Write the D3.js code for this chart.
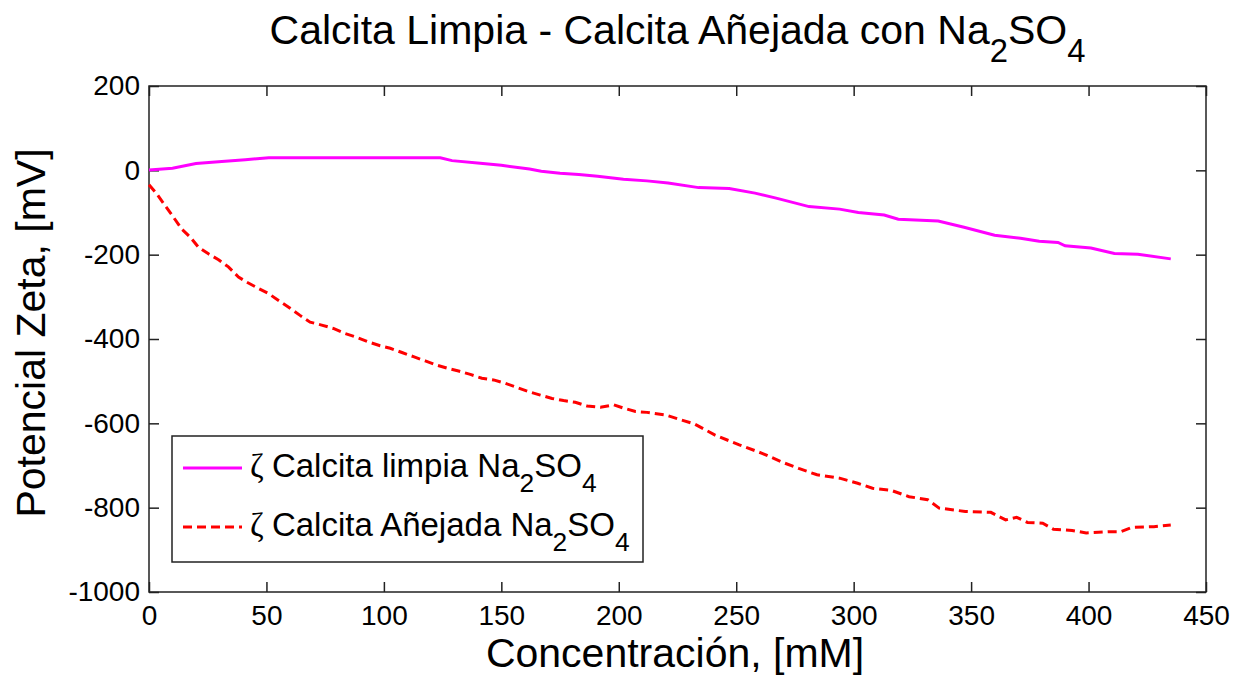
<!DOCTYPE html>
<html>
<head>
<meta charset="utf-8">
<script src="https://cdn.jsdelivr.net/npm/d3@7"></script>
<style>
  body { margin: 0; background: #fff; }
  text { font-family: "Liberation Sans", Arial, sans-serif; fill: #000; }
</style>
</head>
<body>
<div id="chart"></div>
<script>
// data
const concLimpia = [0, 10, 20, 31, 41, 51, 124, 129, 141, 150, 162, 167, 175, 183, 191, 202, 212, 221, 234, 247, 258, 267, 281, 294, 302, 313, 319, 336, 347, 360, 371, 379, 387, 390, 401, 411, 421, 435]
const zetaLimpia = [1, 5, 16, 21, 25, 30, 30, 23, 17, 12, 3, -2, -7, -10, -14, -21, -25, -30, -41, -43, -54, -66, -86, -92, -100, -106, -116, -120, -135, -154, -161, -168, -171, -179, -184, -197, -199, -210]

const concAnejada = [0, 3.3, 6.8, 10.4, 13.9, 17.5, 21, 25.3, 29.6, 33.8, 38.1, 41.6, 46.6, 50.8, 55, 59.3, 64.3, 68.6, 73.5, 78.5, 83.5, 88.4, 93.4, 98.4, 102.7, 107.7, 112.6, 117.6, 122.5, 126.8, 131.8, 136.8, 141.7, 146.7, 151.7, 156.6, 161.6, 166.6, 171.6, 176.5, 181.5, 186.5, 192.2, 197.9, 202.1, 207.1, 212, 219.8, 232.4, 241, 251.3, 261, 270, 276.6, 284.4, 294, 301.7, 308, 316, 323.6, 331.5, 336.4, 347.5, 358.4, 364.7, 369.4, 374, 380.5, 385, 393, 399, 408.8, 413.6, 418.4, 427.8, 435]
const zetaAnejada = [-34, -56, -83, -111, -139, -158, -182, -198, -212, -229, -253, -265, -280, -292, -308, -324, -344, -360, -367, -375, -387, -396, -407, -416, -422, -432, -442, -452, -462, -469, -476, -484, -493, -497, -505, -515, -525, -533, -541, -546, -550, -559, -562, -556, -564, -572, -574, -580, -602, -628, -651, -671, -693, -707, -722, -730, -742, -754, -759, -774, -781, -801, -809, -811, -829, -823, -835, -837, -851, -854, -860, -857, -857, -847, -845, -841]

const xTicks = [0, 50, 100, 150, 200, 250, 300, 350, 400, 450]
const yTicks = [200, 0, -200, -400, -600, -800, -1000]

// size and plot box
const WIDTH = 1247,
    HEIGHT = 679,
    LEFT = 149, RIGHT = 1206, TOP = 86, BOTTOM = 592

const svg = d3.select("#chart")
    .append("svg")
    .attr("width", WIDTH)
    .attr("height", HEIGHT)

const x = d3.scaleLinear().domain([0, 450]).range([LEFT, RIGHT])
const y = d3.scaleLinear().domain([-1000, 200]).range([BOTTOM, TOP])

// plain labels: hyphen minus, no thousands comma
const plain = d => String(d)

// axes, ticks point inward on all four sides
function styleAxis(g) {
    g.select(".domain").remove()
    g.selectAll("line").attr("stroke", "#222").attr("stroke-width", 1.5)
    g.selectAll("text").style("font-size", "28px").attr("fill", "#000")
}

svg.append("g")
    .attr("transform", "translate(0," + BOTTOM + ")")
    .call(d3.axisBottom(x).tickValues(xTicks).tickFormat(plain).tickSizeInner(-10).tickSizeOuter(0).tickPadding(13))
    .call(styleAxis)

svg.append("g")
    .attr("transform", "translate(0," + TOP + ")")
    .call(d3.axisTop(x).tickValues(xTicks).tickSizeInner(-10).tickSizeOuter(0).tickFormat(""))
    .call(styleAxis)

svg.append("g")
    .attr("transform", "translate(" + LEFT + ",0)")
    .call(d3.axisLeft(y).tickValues(yTicks).tickFormat(plain).tickSizeInner(-10).tickSizeOuter(0).tickPadding(9))
    .call(styleAxis)

svg.append("g")
    .attr("transform", "translate(" + RIGHT + ",0)")
    .call(d3.axisRight(y).tickValues(yTicks).tickSizeInner(-10).tickSizeOuter(0).tickFormat(""))
    .call(styleAxis)

svg.append("rect")
    .attr("x", LEFT).attr("y", TOP)
    .attr("width", RIGHT - LEFT).attr("height", BOTTOM - TOP)
    .attr("fill", "none")
    .attr("stroke", "#222")
    .attr("stroke-width", 1.5)

// the two curves
const line = d3.line()
    .x(d => x(d[0]))
    .y(d => y(d[1]))

svg.append("path")
    .datum(d3.zip(concLimpia, zetaLimpia))
    .attr("d", line)
    .attr("fill", "none")
    .attr("stroke", "#ff00ff")
    .attr("stroke-width", 3)

svg.append("path")
    .datum(d3.zip(concAnejada, zetaAnejada))
    .attr("d", line)
    .attr("fill", "none")
    .attr("stroke", "#ff0000")
    .attr("stroke-width", 3)
    .attr("stroke-dasharray", "9,5")

// text with Na2SO4 subscripts
function addFormula(t, before, size) {
    t.append("tspan").text(before + "Na")
    t.append("tspan").text("2").style("font-size", size * 0.8 + "px").attr("dy", size * 0.45)
    t.append("tspan").text("SO").attr("dy", -size * 0.45)
    t.append("tspan").text("4").style("font-size", size * 0.8 + "px").attr("dy", size * 0.45)
}

let title = svg.append("text")
    .attr("x", (LEFT + RIGHT) / 2)
    .attr("y", 44)
    .attr("text-anchor", "middle")
    .style("font-size", "41px")
addFormula(title, "Calcita Limpia - Calcita Añejada con ", 41)

svg.append("text")
    .attr("x", 675)
    .attr("y", 667)
    .attr("text-anchor", "middle")
    .style("font-size", "41px")
    .text("Concentración, [mM]")

svg.append("text")
    .attr("transform", "translate(45,333) rotate(-90)")
    .attr("text-anchor", "middle")
    .style("font-size", "41px")
    .text("Potencial Zeta, [mV]")

// legend
const LEGEND_ITEMS = [
    { label: " Calcita limpia ", color: "#ff00ff", dash: null },
    { label: " Calcita Añejada ", color: "#ff0000", dash: "9,5" }
]

let legend = svg.append("g")

legend.append("rect")
    .attr("x", 172).attr("y", 436)
    .attr("width", 471).attr("height", 126)
    .attr("fill", "#fff")
    .attr("stroke", "#222")
    .attr("stroke-width", 1.5)

LEGEND_ITEMS.forEach((item, i) => {
    let ly = 468 + i * 59
    legend.append("line")
        .attr("x1", 183).attr("x2", 242)
        .attr("y1", ly).attr("y2", ly)
        .attr("stroke", item.color)
        .attr("stroke-width", 3)
        .attr("stroke-dasharray", item.dash)
    let t = legend.append("text")
        .attr("x", 250)
        .attr("y", ly + 9)
        .style("font-size", "33px")
    t.append("tspan").text("ζ ").style("font-family", "'Liberation Serif', serif")
    addFormula(t, item.label.trimStart(), 33)
})
</script>
</body>
</html>
